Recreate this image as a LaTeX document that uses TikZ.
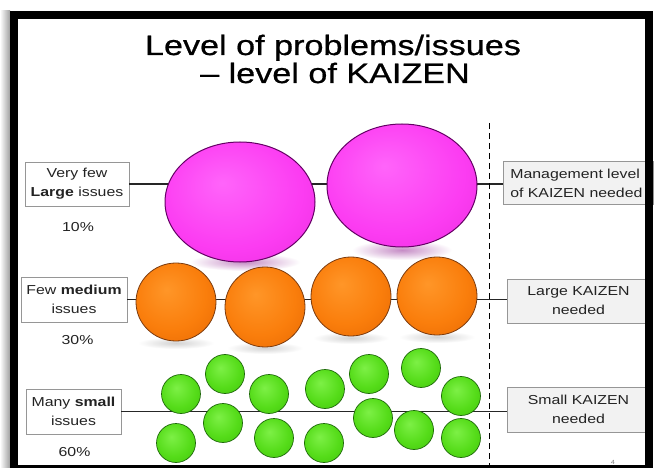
\documentclass[tikz,border=0pt]{standalone}
\usepackage{fontspec}
\setmainfont{Liberation Sans}[FakeStretch=1.22]
\definecolor{txt}{RGB}{35,35,35}
\definecolor{boxline}{RGB}{150,150,150}
\definecolor{rfill}{RGB}{242,242,242}
\definecolor{pinkhi}{RGB}{255,100,250}
\definecolor{pinkmid}{RGB}{252,60,242}
\definecolor{pinklo}{RGB}{228,40,215}
\definecolor{pinkedge}{RGB}{150,20,140}
\definecolor{pinkline}{RGB}{100,0,100}
\definecolor{orhi}{RGB}{255,150,40}
\definecolor{ormid}{RGB}{250,126,12}
\definecolor{orlo}{RGB}{228,100,0}
\definecolor{oredge}{RGB}{170,70,0}
\definecolor{orline}{RGB}{125,60,15}
\definecolor{grhi}{RGB}{125,240,70}
\definecolor{grmid}{RGB}{85,220,25}
\definecolor{grlo}{RGB}{62,190,10}
\definecolor{gredge}{RGB}{40,140,0}
\definecolor{grline}{RGB}{30,105,10}
\pgfdeclareradialshading{pinkball}{\pgfpoint{-6bp}{8bp}}{color(0bp)=(pinkhi); color(24bp)=(pinkmid); color(44bp)=(pinklo); color(53bp)=(pinkedge)}
\pgfdeclareradialshading{orball}{\pgfpoint{-6bp}{8bp}}{color(0bp)=(orhi); color(22bp)=(ormid); color(42bp)=(orlo); color(52bp)=(oredge)}
\pgfdeclareradialshading{grball}{\pgfpoint{-6bp}{8bp}}{color(0bp)=(grhi); color(22bp)=(grmid); color(42bp)=(grlo); color(52bp)=(gredge)}
\tikzset{
  sphP/.style={shade, shading=pinkball, draw=pinkline, line width=1},
  sphO/.style={shade, shading=orball, draw=orline, line width=0.8},
  sphG/.style={shade, shading=grball, draw=grline, line width=0.7},
  lbox/.style={draw=boxline, fill=white, line width=0.7, align=center, inner sep=0pt,
    text=txt, font=\fontsize{13}{19}\selectfont},
  rbox/.style={draw=boxline, fill=rfill, line width=0.7, align=center, inner sep=0pt,
    text=txt, font=\fontsize{13}{19}\selectfont},
  pct/.style={text=txt, font=\fontsize{13}{13}\selectfont, inner sep=0pt},
  conn/.style={draw=black!85, line width=1.4},
  vdash/.style={draw=black, line width=1.5, dash pattern=on 6pt off 4pt},
  ttl/.style={font=\fontsize{28}{28}\selectfont\addfontfeature{FakeBold=0.7}, text=black, anchor=base, inner sep=0pt}
}
\begin{document}
\begin{tikzpicture}[x=1pt,y=-1pt]
\useasboundingbox (0,0) rectangle (654,468);
\clip (0,0) rectangle (654,468);
\fill[white] (0,0) rectangle (654,468);
\shade[left color=white, right color=gray!75] (0,11) rectangle (10,468);
% title
\node[ttl] (t1) at (333,55) {Level of problems/issues};
\node[ttl] (t2) at (335,83) {– level of KAIZEN};
% boxes
\node[lbox, minimum width=104, minimum height=44] (b1) at (77,184) {Very few\\\textbf{Large} issues};
\node[lbox, minimum width=106, minimum height=45] (b2) at (74,299.5) {Few \textbf{medium}\\issues};
\node[lbox, minimum width=95, minimum height=45] (b3) at (73.5,411.5) {Many \textbf{small}\\issues};
\node[pct] (p1) at (78,227) {10\%};
\node[pct] (p2) at (77.5,340) {30\%};
\node[pct] (p3) at (74.5,452) {60\%};
% connectors (behind balls)
\coordinate (r1w) at (503,183);
\coordinate (r2w) at (507,301);
\coordinate (r3w) at (507,409.5);
\draw[conn] (b1.east) -- (b1.east -| r1w);
\draw[conn] (b2.east) -- (b2.east -| r2w);
\draw[conn] (b3.east) -- (b3.east -| r3w);
% shadows
\shade[inner color=violet!45, outer color=white] (245,262) ellipse [x radius=55, y radius=9];
\shade[inner color=violet!45, outer color=white] (402,250) ellipse [x radius=50, y radius=10];
\foreach \cx/\cy in {176/343, 265/348, 351/338, 437/337}
  \shade[inner color=gray!35, outer color=white] (\cx,\cy) ellipse [x radius=38, y radius=6];
% large balls
\path[sphP] (240,202) ellipse [x radius=75, y radius=60];
\path[sphP] (402,185.5) ellipse [x radius=75, y radius=61.5];
% medium balls
\path[sphO] (176,302) ellipse [x radius=40, y radius=39];
\path[sphO] (265,307) ellipse [x radius=40, y radius=40];
\path[sphO] (351,296.5) ellipse [x radius=40, y radius=39.5];
\path[sphO] (437,296) ellipse [x radius=40, y radius=39];
% small balls
\foreach \cx/\cy in {181/394, 225/374, 269/394, 325/389, 369/374, 421/368, 461/396,
                     176/443, 223/423, 274/438, 324/443, 373/418, 414/430, 461/438}
  \path[sphG] (\cx,\cy) circle [radius=19.5];
% dashed divider
\coordinate (dtop) at (489.5,123);
\coordinate (dbot) at (489.5,470);
\draw[vdash] (dtop) -- (dbot);
% right boxes
\node[rbox, anchor=west, minimum height=43, text width=136, align=left, inner xsep=7pt] (r1) at (r1w) {Management level\\of KAIZEN needed};
\node[rbox, minimum width=143, minimum height=44] (r2) at (578.5,301) {Large KAIZEN\\needed};
\node[rbox, minimum width=143, minimum height=45] (r3) at (578.5,409.5) {Small KAIZEN\\needed};
\node[text=gray, font=\fontsize{6}{6}\selectfont, inner sep=0pt] (pg) at (613,462) {4};
% frame
\draw[black, line width=8] (14,15) rectangle (648.5,469);
\end{tikzpicture}
\end{document}
